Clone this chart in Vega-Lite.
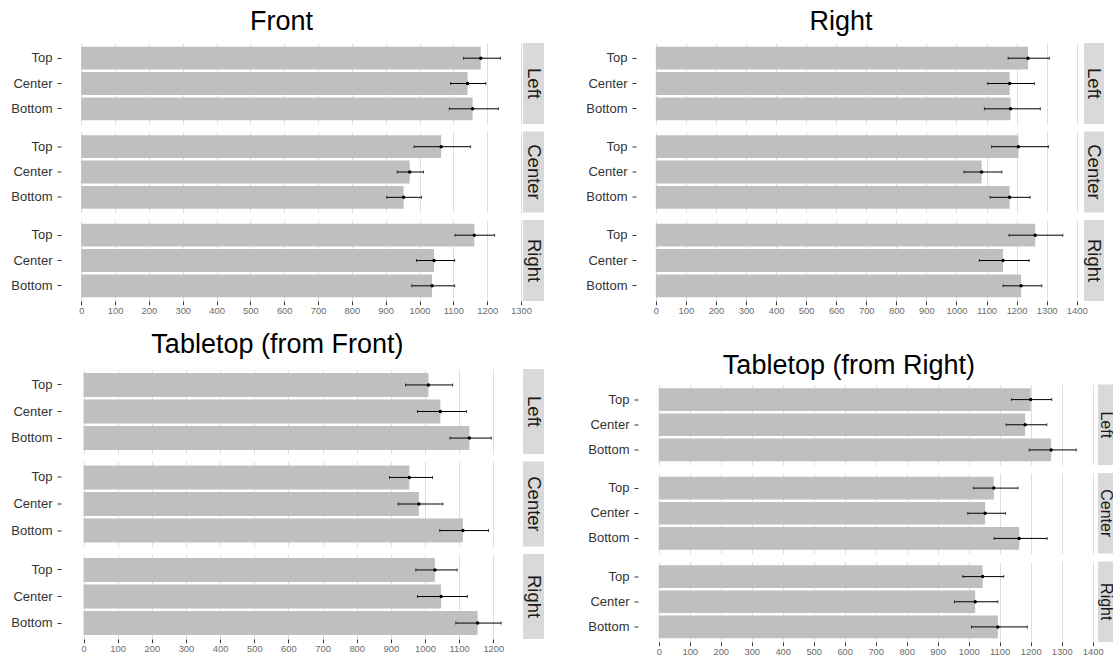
{
  "$schema": "https://vega.github.io/schema/vega-lite/v6.json",
  "background": "white",
  "padding": {"left": 10, "top": 8, "right": 0, "bottom": 0},
  "config": {
    "font": "Liberation Sans",
    "view": {"stroke": null},
    "axis": {"gridColor": "#dedede", "gridWidth": 1, "labelOverlap": false},
    "axisX": {"labelOverlap": false, "tickCount": 15},
    "title": {"fontSize": 27, "fontWeight": "normal", "color": "#000000", "anchor": "middle", "frame": "bounds"}
  },
  "datasets": {
    "d": [
      {"panel": "Front", "grp": "Left", "pos": "Top", "mean": 1181, "lo": 1130, "hi": 1239},
      {"panel": "Front", "grp": "Left", "pos": "Center", "mean": 1142, "lo": 1092, "hi": 1196},
      {"panel": "Front", "grp": "Left", "pos": "Bottom", "mean": 1157, "lo": 1088, "hi": 1233},
      {"panel": "Front", "grp": "Center", "pos": "Top", "mean": 1064, "lo": 984, "hi": 1151},
      {"panel": "Front", "grp": "Center", "pos": "Center", "mean": 971, "lo": 934, "hi": 1012},
      {"panel": "Front", "grp": "Center", "pos": "Bottom", "mean": 953, "lo": 903, "hi": 1006},
      {"panel": "Front", "grp": "Right", "pos": "Top", "mean": 1162, "lo": 1105, "hi": 1222},
      {"panel": "Front", "grp": "Right", "pos": "Center", "mean": 1043, "lo": 991, "hi": 1104},
      {"panel": "Front", "grp": "Right", "pos": "Bottom", "mean": 1037, "lo": 977, "hi": 1104},
      {"panel": "Right", "grp": "Left", "pos": "Top", "mean": 1238, "lo": 1172, "hi": 1309},
      {"panel": "Right", "grp": "Left", "pos": "Center", "mean": 1177, "lo": 1104, "hi": 1259},
      {"panel": "Right", "grp": "Left", "pos": "Bottom", "mean": 1180, "lo": 1093, "hi": 1279},
      {"panel": "Right", "grp": "Center", "pos": "Top", "mean": 1206, "lo": 1117, "hi": 1306},
      {"panel": "Right", "grp": "Center", "pos": "Center", "mean": 1084, "lo": 1025, "hi": 1151},
      {"panel": "Right", "grp": "Center", "pos": "Bottom", "mean": 1177, "lo": 1112, "hi": 1245},
      {"panel": "Right", "grp": "Right", "pos": "Top", "mean": 1262, "lo": 1175, "hi": 1354},
      {"panel": "Right", "grp": "Right", "pos": "Center", "mean": 1155, "lo": 1076, "hi": 1242},
      {"panel": "Right", "grp": "Right", "pos": "Bottom", "mean": 1215, "lo": 1155, "hi": 1284},
      {"panel": "TF", "grp": "Left", "pos": "Top", "mean": 1010, "lo": 943, "hi": 1081},
      {"panel": "TF", "grp": "Left", "pos": "Center", "mean": 1045, "lo": 978, "hi": 1121},
      {"panel": "TF", "grp": "Left", "pos": "Bottom", "mean": 1130, "lo": 1073, "hi": 1194},
      {"panel": "TF", "grp": "Center", "pos": "Top", "mean": 954, "lo": 896, "hi": 1022},
      {"panel": "TF", "grp": "Center", "pos": "Center", "mean": 982, "lo": 921, "hi": 1052},
      {"panel": "TF", "grp": "Center", "pos": "Bottom", "mean": 1111, "lo": 1043, "hi": 1186},
      {"panel": "TF", "grp": "Right", "pos": "Top", "mean": 1029, "lo": 973, "hi": 1094},
      {"panel": "TF", "grp": "Right", "pos": "Center", "mean": 1047, "lo": 978, "hi": 1124},
      {"panel": "TF", "grp": "Right", "pos": "Bottom", "mean": 1154, "lo": 1090, "hi": 1223},
      {"panel": "TR", "grp": "Left", "pos": "Top", "mean": 1200, "lo": 1138, "hi": 1268},
      {"panel": "TR", "grp": "Left", "pos": "Center", "mean": 1182, "lo": 1121, "hi": 1252},
      {"panel": "TR", "grp": "Left", "pos": "Bottom", "mean": 1266, "lo": 1195, "hi": 1347},
      {"panel": "TR", "grp": "Center", "pos": "Top", "mean": 1081, "lo": 1015, "hi": 1159},
      {"panel": "TR", "grp": "Center", "pos": "Center", "mean": 1053, "lo": 997, "hi": 1119},
      {"panel": "TR", "grp": "Center", "pos": "Bottom", "mean": 1163, "lo": 1082, "hi": 1253},
      {"panel": "TR", "grp": "Right", "pos": "Top", "mean": 1045, "lo": 981, "hi": 1113},
      {"panel": "TR", "grp": "Right", "pos": "Center", "mean": 1021, "lo": 954, "hi": 1094},
      {"panel": "TR", "grp": "Right", "pos": "Bottom", "mean": 1094, "lo": 1009, "hi": 1189}
    ]
  },
  "vconcat": [
    {
      "hconcat": [
        {
          "title": {"text": "Front", "offset": 7, "dx": 4},
          "spacing": 7.5,
          "vconcat": [
            {"spacing": 1, "bounds": "flush", "hconcat": [
              {"width": 461, "height": 81, "data": {"name": "d"},
               "transform": [{"filter": "datum.panel === 'Front' && datum.grp === 'Left'"}],
               "encoding": {"y": {"field": "pos", "type": "nominal", "sort": ["Top", "Center", "Bottom"], "title": null, "scale": {"paddingInner": 0.1, "paddingOuter": 0.15}, "axis": {"domain": false, "ticks": true, "tickSize": 4, "tickColor": "#333333", "labelColor": "#333333", "labelFontSize": 13, "labelPadding": 5, "grid": false}}},
               "layer": [
                 {"mark": {"type": "bar", "color": "#bfbfbf"}, "encoding": {"x": {"field": "mean", "type": "quantitative", "title": null, "scale": {"domain": [-60, 1303], "nice": false, "zero": false}, "axis": {"values": [0,100,200,300,400,500,600,700,800,900,1000,1100,1200,1300], "tickCount": 15, "labels": false, "ticks": false, "domain": false, "grid": true}}, "x2": {"datum": 0}}},
                 {"mark": {"type": "rule", "color": "#000000", "strokeWidth": 1}, "encoding": {"x": {"field": "lo", "type": "quantitative", "title": null, "axis": {"values": [0,100,200,300,400,500,600,700,800,900,1000,1100,1200,1300], "tickCount": 15, "labels": false, "ticks": false, "domain": false, "grid": true}}, "x2": {"field": "hi"}}},
                 {"mark": {"type": "tick", "color": "#000000", "size": 3, "thickness": 1}, "encoding": {"x": {"field": "lo", "type": "quantitative", "title": null, "axis": {"values": [0,100,200,300,400,500,600,700,800,900,1000,1100,1200,1300], "tickCount": 15, "labels": false, "ticks": false, "domain": false, "grid": true}}}},
                 {"mark": {"type": "tick", "color": "#000000", "size": 3, "thickness": 1}, "encoding": {"x": {"field": "hi", "type": "quantitative", "title": null, "axis": {"values": [0,100,200,300,400,500,600,700,800,900,1000,1100,1200,1300], "tickCount": 15, "labels": false, "ticks": false, "domain": false, "grid": true}}}},
                 {"mark": {"type": "point", "filled": true, "color": "#000000", "size": 12, "opacity": 1}, "encoding": {"x": {"field": "mean", "type": "quantitative", "title": null, "axis": {"values": [0,100,200,300,400,500,600,700,800,900,1000,1100,1200,1300], "tickCount": 15, "labels": false, "ticks": false, "domain": false, "grid": true}}}}
               ]},
              {"width": 21, "height": 81, "data": {"name": "d"},
               "transform": [{"filter": "datum.panel === 'Front' && datum.grp === 'Left' && datum.pos === 'Top'"}],
               "view": {"fill": "#d9d9d9", "stroke": null},
               "mark": {"type": "text", "angle": 90, "fontSize": 18.5, "color": "#1a1a1a", "baseline": "middle", "align": "center"},
               "encoding": {"text": {"field": "grp"}}}
            ]},
            {"spacing": 1, "bounds": "flush", "hconcat": [
              {"width": 461, "height": 81, "data": {"name": "d"},
               "transform": [{"filter": "datum.panel === 'Front' && datum.grp === 'Center'"}],
               "encoding": {"y": {"field": "pos", "type": "nominal", "sort": ["Top", "Center", "Bottom"], "title": null, "scale": {"paddingInner": 0.1, "paddingOuter": 0.15}, "axis": {"domain": false, "ticks": true, "tickSize": 4, "tickColor": "#333333", "labelColor": "#333333", "labelFontSize": 13, "labelPadding": 5, "grid": false}}},
               "layer": [
                 {"mark": {"type": "bar", "color": "#bfbfbf"}, "encoding": {"x": {"field": "mean", "type": "quantitative", "title": null, "scale": {"domain": [-60, 1303], "nice": false, "zero": false}, "axis": {"values": [0,100,200,300,400,500,600,700,800,900,1000,1100,1200,1300], "tickCount": 15, "labels": false, "ticks": false, "domain": false, "grid": true}}, "x2": {"datum": 0}}},
                 {"mark": {"type": "rule", "color": "#000000", "strokeWidth": 1}, "encoding": {"x": {"field": "lo", "type": "quantitative", "title": null, "axis": {"values": [0,100,200,300,400,500,600,700,800,900,1000,1100,1200,1300], "tickCount": 15, "labels": false, "ticks": false, "domain": false, "grid": true}}, "x2": {"field": "hi"}}},
                 {"mark": {"type": "tick", "color": "#000000", "size": 3, "thickness": 1}, "encoding": {"x": {"field": "lo", "type": "quantitative", "title": null, "axis": {"values": [0,100,200,300,400,500,600,700,800,900,1000,1100,1200,1300], "tickCount": 15, "labels": false, "ticks": false, "domain": false, "grid": true}}}},
                 {"mark": {"type": "tick", "color": "#000000", "size": 3, "thickness": 1}, "encoding": {"x": {"field": "hi", "type": "quantitative", "title": null, "axis": {"values": [0,100,200,300,400,500,600,700,800,900,1000,1100,1200,1300], "tickCount": 15, "labels": false, "ticks": false, "domain": false, "grid": true}}}},
                 {"mark": {"type": "point", "filled": true, "color": "#000000", "size": 12, "opacity": 1}, "encoding": {"x": {"field": "mean", "type": "quantitative", "title": null, "axis": {"values": [0,100,200,300,400,500,600,700,800,900,1000,1100,1200,1300], "tickCount": 15, "labels": false, "ticks": false, "domain": false, "grid": true}}}}
               ]},
              {"width": 21, "height": 81, "data": {"name": "d"},
               "transform": [{"filter": "datum.panel === 'Front' && datum.grp === 'Center' && datum.pos === 'Top'"}],
               "view": {"fill": "#d9d9d9", "stroke": null},
               "mark": {"type": "text", "angle": 90, "fontSize": 18.5, "color": "#1a1a1a", "baseline": "middle", "align": "center"},
               "encoding": {"text": {"field": "grp"}}}
            ]},
            {"spacing": 1, "bounds": "flush", "hconcat": [
              {"width": 461, "height": 81, "data": {"name": "d"},
               "transform": [{"filter": "datum.panel === 'Front' && datum.grp === 'Right'"}],
               "encoding": {"y": {"field": "pos", "type": "nominal", "sort": ["Top", "Center", "Bottom"], "title": null, "scale": {"paddingInner": 0.1, "paddingOuter": 0.15}, "axis": {"domain": false, "ticks": true, "tickSize": 4, "tickColor": "#333333", "labelColor": "#333333", "labelFontSize": 13, "labelPadding": 5, "grid": false}}},
               "layer": [
                 {"mark": {"type": "bar", "color": "#bfbfbf"}, "encoding": {"x": {"field": "mean", "type": "quantitative", "title": null, "scale": {"domain": [-60, 1303], "nice": false, "zero": false}, "axis": {"values": [0,100,200,300,400,500,600,700,800,900,1000,1100,1200,1300], "tickCount": 15, "format": "d", "labelOverlap": false, "labels": true, "labelFlush": false, "labelFontSize": 9.4, "labelColor": "#6b6b6b", "labelPadding": 2, "ticks": true, "tickSize": 3.7, "tickColor": "#333333", "domain": false, "grid": true}}, "x2": {"datum": 0}}},
                 {"mark": {"type": "rule", "color": "#000000", "strokeWidth": 1}, "encoding": {"x": {"field": "lo", "type": "quantitative", "title": null, "axis": {"values": [0,100,200,300,400,500,600,700,800,900,1000,1100,1200,1300], "tickCount": 15, "format": "d", "labelOverlap": false, "labels": true, "labelFlush": false, "labelFontSize": 9.4, "labelColor": "#6b6b6b", "labelPadding": 2, "ticks": true, "tickSize": 3.7, "tickColor": "#333333", "domain": false, "grid": true}}, "x2": {"field": "hi"}}},
                 {"mark": {"type": "tick", "color": "#000000", "size": 3, "thickness": 1}, "encoding": {"x": {"field": "lo", "type": "quantitative", "title": null, "axis": {"values": [0,100,200,300,400,500,600,700,800,900,1000,1100,1200,1300], "tickCount": 15, "format": "d", "labelOverlap": false, "labels": true, "labelFlush": false, "labelFontSize": 9.4, "labelColor": "#6b6b6b", "labelPadding": 2, "ticks": true, "tickSize": 3.7, "tickColor": "#333333", "domain": false, "grid": true}}}},
                 {"mark": {"type": "tick", "color": "#000000", "size": 3, "thickness": 1}, "encoding": {"x": {"field": "hi", "type": "quantitative", "title": null, "axis": {"values": [0,100,200,300,400,500,600,700,800,900,1000,1100,1200,1300], "tickCount": 15, "format": "d", "labelOverlap": false, "labels": true, "labelFlush": false, "labelFontSize": 9.4, "labelColor": "#6b6b6b", "labelPadding": 2, "ticks": true, "tickSize": 3.7, "tickColor": "#333333", "domain": false, "grid": true}}}},
                 {"mark": {"type": "point", "filled": true, "color": "#000000", "size": 12, "opacity": 1}, "encoding": {"x": {"field": "mean", "type": "quantitative", "title": null, "axis": {"values": [0,100,200,300,400,500,600,700,800,900,1000,1100,1200,1300], "tickCount": 15, "format": "d", "labelOverlap": false, "labels": true, "labelFlush": false, "labelFontSize": 9.4, "labelColor": "#6b6b6b", "labelPadding": 2, "ticks": true, "tickSize": 3.7, "tickColor": "#333333", "domain": false, "grid": true}}}}
               ]},
              {"width": 21, "height": 81, "data": {"name": "d"},
               "transform": [{"filter": "datum.panel === 'Front' && datum.grp === 'Right' && datum.pos === 'Top'"}],
               "view": {"fill": "#d9d9d9", "stroke": null},
               "mark": {"type": "text", "angle": 90, "fontSize": 18.5, "color": "#1a1a1a", "baseline": "middle", "align": "center"},
               "encoding": {"text": {"field": "grp"}}}
            ]}
          ]
        },
        {
          "title": {"text": "Right", "offset": 7, "dx": -4},
          "spacing": 7.5,
          "vconcat": [
            {"spacing": 1, "bounds": "flush", "hconcat": [
              {"width": 447, "height": 81, "data": {"name": "d"},
               "transform": [{"filter": "datum.panel === 'Right' && datum.grp === 'Left'"}],
               "encoding": {"y": {"field": "pos", "type": "nominal", "sort": ["Top", "Center", "Bottom"], "title": null, "scale": {"paddingInner": 0.1, "paddingOuter": 0.15}, "axis": {"domain": false, "ticks": true, "tickSize": 4, "tickColor": "#333333", "labelColor": "#333333", "labelFontSize": 13, "labelPadding": 5, "grid": false}}},
               "layer": [
                 {"mark": {"type": "bar", "color": "#bfbfbf"}, "encoding": {"x": {"field": "mean", "type": "quantitative", "title": null, "scale": {"domain": [-66, 1421], "nice": false, "zero": false}, "axis": {"values": [0,100,200,300,400,500,600,700,800,900,1000,1100,1200,1300,1400], "tickCount": 15, "labels": false, "ticks": false, "domain": false, "grid": true}}, "x2": {"datum": 0}}},
                 {"mark": {"type": "rule", "color": "#000000", "strokeWidth": 1}, "encoding": {"x": {"field": "lo", "type": "quantitative", "title": null, "axis": {"values": [0,100,200,300,400,500,600,700,800,900,1000,1100,1200,1300,1400], "tickCount": 15, "labels": false, "ticks": false, "domain": false, "grid": true}}, "x2": {"field": "hi"}}},
                 {"mark": {"type": "tick", "color": "#000000", "size": 3, "thickness": 1}, "encoding": {"x": {"field": "lo", "type": "quantitative", "title": null, "axis": {"values": [0,100,200,300,400,500,600,700,800,900,1000,1100,1200,1300,1400], "tickCount": 15, "labels": false, "ticks": false, "domain": false, "grid": true}}}},
                 {"mark": {"type": "tick", "color": "#000000", "size": 3, "thickness": 1}, "encoding": {"x": {"field": "hi", "type": "quantitative", "title": null, "axis": {"values": [0,100,200,300,400,500,600,700,800,900,1000,1100,1200,1300,1400], "tickCount": 15, "labels": false, "ticks": false, "domain": false, "grid": true}}}},
                 {"mark": {"type": "point", "filled": true, "color": "#000000", "size": 12, "opacity": 1}, "encoding": {"x": {"field": "mean", "type": "quantitative", "title": null, "axis": {"values": [0,100,200,300,400,500,600,700,800,900,1000,1100,1200,1300,1400], "tickCount": 15, "labels": false, "ticks": false, "domain": false, "grid": true}}}}
               ]},
              {"width": 20, "height": 81, "data": {"name": "d"},
               "transform": [{"filter": "datum.panel === 'Right' && datum.grp === 'Left' && datum.pos === 'Top'"}],
               "view": {"fill": "#d9d9d9", "stroke": null},
               "mark": {"type": "text", "angle": 90, "fontSize": 18.5, "color": "#1a1a1a", "baseline": "middle", "align": "center"},
               "encoding": {"text": {"field": "grp"}}}
            ]},
            {"spacing": 1, "bounds": "flush", "hconcat": [
              {"width": 447, "height": 81, "data": {"name": "d"},
               "transform": [{"filter": "datum.panel === 'Right' && datum.grp === 'Center'"}],
               "encoding": {"y": {"field": "pos", "type": "nominal", "sort": ["Top", "Center", "Bottom"], "title": null, "scale": {"paddingInner": 0.1, "paddingOuter": 0.15}, "axis": {"domain": false, "ticks": true, "tickSize": 4, "tickColor": "#333333", "labelColor": "#333333", "labelFontSize": 13, "labelPadding": 5, "grid": false}}},
               "layer": [
                 {"mark": {"type": "bar", "color": "#bfbfbf"}, "encoding": {"x": {"field": "mean", "type": "quantitative", "title": null, "scale": {"domain": [-66, 1421], "nice": false, "zero": false}, "axis": {"values": [0,100,200,300,400,500,600,700,800,900,1000,1100,1200,1300,1400], "tickCount": 15, "labels": false, "ticks": false, "domain": false, "grid": true}}, "x2": {"datum": 0}}},
                 {"mark": {"type": "rule", "color": "#000000", "strokeWidth": 1}, "encoding": {"x": {"field": "lo", "type": "quantitative", "title": null, "axis": {"values": [0,100,200,300,400,500,600,700,800,900,1000,1100,1200,1300,1400], "tickCount": 15, "labels": false, "ticks": false, "domain": false, "grid": true}}, "x2": {"field": "hi"}}},
                 {"mark": {"type": "tick", "color": "#000000", "size": 3, "thickness": 1}, "encoding": {"x": {"field": "lo", "type": "quantitative", "title": null, "axis": {"values": [0,100,200,300,400,500,600,700,800,900,1000,1100,1200,1300,1400], "tickCount": 15, "labels": false, "ticks": false, "domain": false, "grid": true}}}},
                 {"mark": {"type": "tick", "color": "#000000", "size": 3, "thickness": 1}, "encoding": {"x": {"field": "hi", "type": "quantitative", "title": null, "axis": {"values": [0,100,200,300,400,500,600,700,800,900,1000,1100,1200,1300,1400], "tickCount": 15, "labels": false, "ticks": false, "domain": false, "grid": true}}}},
                 {"mark": {"type": "point", "filled": true, "color": "#000000", "size": 12, "opacity": 1}, "encoding": {"x": {"field": "mean", "type": "quantitative", "title": null, "axis": {"values": [0,100,200,300,400,500,600,700,800,900,1000,1100,1200,1300,1400], "tickCount": 15, "labels": false, "ticks": false, "domain": false, "grid": true}}}}
               ]},
              {"width": 20, "height": 81, "data": {"name": "d"},
               "transform": [{"filter": "datum.panel === 'Right' && datum.grp === 'Center' && datum.pos === 'Top'"}],
               "view": {"fill": "#d9d9d9", "stroke": null},
               "mark": {"type": "text", "angle": 90, "fontSize": 18.5, "color": "#1a1a1a", "baseline": "middle", "align": "center"},
               "encoding": {"text": {"field": "grp"}}}
            ]},
            {"spacing": 1, "bounds": "flush", "hconcat": [
              {"width": 447, "height": 81, "data": {"name": "d"},
               "transform": [{"filter": "datum.panel === 'Right' && datum.grp === 'Right'"}],
               "encoding": {"y": {"field": "pos", "type": "nominal", "sort": ["Top", "Center", "Bottom"], "title": null, "scale": {"paddingInner": 0.1, "paddingOuter": 0.15}, "axis": {"domain": false, "ticks": true, "tickSize": 4, "tickColor": "#333333", "labelColor": "#333333", "labelFontSize": 13, "labelPadding": 5, "grid": false}}},
               "layer": [
                 {"mark": {"type": "bar", "color": "#bfbfbf"}, "encoding": {"x": {"field": "mean", "type": "quantitative", "title": null, "scale": {"domain": [-66, 1421], "nice": false, "zero": false}, "axis": {"values": [0,100,200,300,400,500,600,700,800,900,1000,1100,1200,1300,1400], "tickCount": 15, "format": "d", "labelOverlap": false, "labels": true, "labelFlush": false, "labelFontSize": 9.4, "labelColor": "#6b6b6b", "labelPadding": 2, "ticks": true, "tickSize": 3.7, "tickColor": "#333333", "domain": false, "grid": true}}, "x2": {"datum": 0}}},
                 {"mark": {"type": "rule", "color": "#000000", "strokeWidth": 1}, "encoding": {"x": {"field": "lo", "type": "quantitative", "title": null, "axis": {"values": [0,100,200,300,400,500,600,700,800,900,1000,1100,1200,1300,1400], "tickCount": 15, "format": "d", "labelOverlap": false, "labels": true, "labelFlush": false, "labelFontSize": 9.4, "labelColor": "#6b6b6b", "labelPadding": 2, "ticks": true, "tickSize": 3.7, "tickColor": "#333333", "domain": false, "grid": true}}, "x2": {"field": "hi"}}},
                 {"mark": {"type": "tick", "color": "#000000", "size": 3, "thickness": 1}, "encoding": {"x": {"field": "lo", "type": "quantitative", "title": null, "axis": {"values": [0,100,200,300,400,500,600,700,800,900,1000,1100,1200,1300,1400], "tickCount": 15, "format": "d", "labelOverlap": false, "labels": true, "labelFlush": false, "labelFontSize": 9.4, "labelColor": "#6b6b6b", "labelPadding": 2, "ticks": true, "tickSize": 3.7, "tickColor": "#333333", "domain": false, "grid": true}}}},
                 {"mark": {"type": "tick", "color": "#000000", "size": 3, "thickness": 1}, "encoding": {"x": {"field": "hi", "type": "quantitative", "title": null, "axis": {"values": [0,100,200,300,400,500,600,700,800,900,1000,1100,1200,1300,1400], "tickCount": 15, "format": "d", "labelOverlap": false, "labels": true, "labelFlush": false, "labelFontSize": 9.4, "labelColor": "#6b6b6b", "labelPadding": 2, "ticks": true, "tickSize": 3.7, "tickColor": "#333333", "domain": false, "grid": true}}}},
                 {"mark": {"type": "point", "filled": true, "color": "#000000", "size": 12, "opacity": 1}, "encoding": {"x": {"field": "mean", "type": "quantitative", "title": null, "axis": {"values": [0,100,200,300,400,500,600,700,800,900,1000,1100,1200,1300,1400], "tickCount": 15, "format": "d", "labelOverlap": false, "labels": true, "labelFlush": false, "labelFontSize": 9.4, "labelColor": "#6b6b6b", "labelPadding": 2, "ticks": true, "tickSize": 3.7, "tickColor": "#333333", "domain": false, "grid": true}}}}
               ]},
              {"width": 20, "height": 81, "data": {"name": "d"},
               "transform": [{"filter": "datum.panel === 'Right' && datum.grp === 'Right' && datum.pos === 'Top'"}],
               "view": {"fill": "#d9d9d9", "stroke": null},
               "mark": {"type": "text", "angle": 90, "fontSize": 18.5, "color": "#1a1a1a", "baseline": "middle", "align": "center"},
               "encoding": {"text": {"field": "grp"}}}
            ]}
          ]
        }
      ],
      "spacing": 41
    },
    {
      "hconcat": [
        {
          "title": {"text": "Tabletop (from Front)", "offset": 10},
          "spacing": 7.5,
          "vconcat": [
            {"spacing": 1, "bounds": "flush", "hconcat": [
              {"width": 461, "height": 85, "data": {"name": "d"},
               "transform": [{"filter": "datum.panel === 'TF' && datum.grp === 'Left'"}],
               "encoding": {"y": {"field": "pos", "type": "nominal", "sort": ["Top", "Center", "Bottom"], "title": null, "scale": {"paddingInner": 0.1, "paddingOuter": 0.15}, "axis": {"domain": false, "ticks": true, "tickSize": 4, "tickColor": "#333333", "labelColor": "#333333", "labelFontSize": 13, "labelPadding": 5, "grid": false}}},
               "layer": [
                 {"mark": {"type": "bar", "color": "#bfbfbf"}, "encoding": {"x": {"field": "mean", "type": "quantitative", "title": null, "scale": {"domain": [-66, 1284], "nice": false, "zero": false}, "axis": {"values": [0,100,200,300,400,500,600,700,800,900,1000,1100,1200], "tickCount": 15, "labels": false, "ticks": false, "domain": false, "grid": true}}, "x2": {"datum": 0}}},
                 {"mark": {"type": "rule", "color": "#000000", "strokeWidth": 1}, "encoding": {"x": {"field": "lo", "type": "quantitative", "title": null, "axis": {"values": [0,100,200,300,400,500,600,700,800,900,1000,1100,1200], "tickCount": 15, "labels": false, "ticks": false, "domain": false, "grid": true}}, "x2": {"field": "hi"}}},
                 {"mark": {"type": "tick", "color": "#000000", "size": 3, "thickness": 1}, "encoding": {"x": {"field": "lo", "type": "quantitative", "title": null, "axis": {"values": [0,100,200,300,400,500,600,700,800,900,1000,1100,1200], "tickCount": 15, "labels": false, "ticks": false, "domain": false, "grid": true}}}},
                 {"mark": {"type": "tick", "color": "#000000", "size": 3, "thickness": 1}, "encoding": {"x": {"field": "hi", "type": "quantitative", "title": null, "axis": {"values": [0,100,200,300,400,500,600,700,800,900,1000,1100,1200], "tickCount": 15, "labels": false, "ticks": false, "domain": false, "grid": true}}}},
                 {"mark": {"type": "point", "filled": true, "color": "#000000", "size": 12, "opacity": 1}, "encoding": {"x": {"field": "mean", "type": "quantitative", "title": null, "axis": {"values": [0,100,200,300,400,500,600,700,800,900,1000,1100,1200], "tickCount": 15, "labels": false, "ticks": false, "domain": false, "grid": true}}}}
               ]},
              {"width": 21, "height": 85, "data": {"name": "d"},
               "transform": [{"filter": "datum.panel === 'TF' && datum.grp === 'Left' && datum.pos === 'Top'"}],
               "view": {"fill": "#d9d9d9", "stroke": null},
               "mark": {"type": "text", "angle": 90, "fontSize": 18.5, "color": "#1a1a1a", "baseline": "middle", "align": "center"},
               "encoding": {"text": {"field": "grp"}}}
            ]},
            {"spacing": 1, "bounds": "flush", "hconcat": [
              {"width": 461, "height": 85, "data": {"name": "d"},
               "transform": [{"filter": "datum.panel === 'TF' && datum.grp === 'Center'"}],
               "encoding": {"y": {"field": "pos", "type": "nominal", "sort": ["Top", "Center", "Bottom"], "title": null, "scale": {"paddingInner": 0.1, "paddingOuter": 0.15}, "axis": {"domain": false, "ticks": true, "tickSize": 4, "tickColor": "#333333", "labelColor": "#333333", "labelFontSize": 13, "labelPadding": 5, "grid": false}}},
               "layer": [
                 {"mark": {"type": "bar", "color": "#bfbfbf"}, "encoding": {"x": {"field": "mean", "type": "quantitative", "title": null, "scale": {"domain": [-66, 1284], "nice": false, "zero": false}, "axis": {"values": [0,100,200,300,400,500,600,700,800,900,1000,1100,1200], "tickCount": 15, "labels": false, "ticks": false, "domain": false, "grid": true}}, "x2": {"datum": 0}}},
                 {"mark": {"type": "rule", "color": "#000000", "strokeWidth": 1}, "encoding": {"x": {"field": "lo", "type": "quantitative", "title": null, "axis": {"values": [0,100,200,300,400,500,600,700,800,900,1000,1100,1200], "tickCount": 15, "labels": false, "ticks": false, "domain": false, "grid": true}}, "x2": {"field": "hi"}}},
                 {"mark": {"type": "tick", "color": "#000000", "size": 3, "thickness": 1}, "encoding": {"x": {"field": "lo", "type": "quantitative", "title": null, "axis": {"values": [0,100,200,300,400,500,600,700,800,900,1000,1100,1200], "tickCount": 15, "labels": false, "ticks": false, "domain": false, "grid": true}}}},
                 {"mark": {"type": "tick", "color": "#000000", "size": 3, "thickness": 1}, "encoding": {"x": {"field": "hi", "type": "quantitative", "title": null, "axis": {"values": [0,100,200,300,400,500,600,700,800,900,1000,1100,1200], "tickCount": 15, "labels": false, "ticks": false, "domain": false, "grid": true}}}},
                 {"mark": {"type": "point", "filled": true, "color": "#000000", "size": 12, "opacity": 1}, "encoding": {"x": {"field": "mean", "type": "quantitative", "title": null, "axis": {"values": [0,100,200,300,400,500,600,700,800,900,1000,1100,1200], "tickCount": 15, "labels": false, "ticks": false, "domain": false, "grid": true}}}}
               ]},
              {"width": 21, "height": 85, "data": {"name": "d"},
               "transform": [{"filter": "datum.panel === 'TF' && datum.grp === 'Center' && datum.pos === 'Top'"}],
               "view": {"fill": "#d9d9d9", "stroke": null},
               "mark": {"type": "text", "angle": 90, "fontSize": 18.5, "color": "#1a1a1a", "baseline": "middle", "align": "center"},
               "encoding": {"text": {"field": "grp"}}}
            ]},
            {"spacing": 1, "bounds": "flush", "hconcat": [
              {"width": 461, "height": 85, "data": {"name": "d"},
               "transform": [{"filter": "datum.panel === 'TF' && datum.grp === 'Right'"}],
               "encoding": {"y": {"field": "pos", "type": "nominal", "sort": ["Top", "Center", "Bottom"], "title": null, "scale": {"paddingInner": 0.1, "paddingOuter": 0.15}, "axis": {"domain": false, "ticks": true, "tickSize": 4, "tickColor": "#333333", "labelColor": "#333333", "labelFontSize": 13, "labelPadding": 5, "grid": false}}},
               "layer": [
                 {"mark": {"type": "bar", "color": "#bfbfbf"}, "encoding": {"x": {"field": "mean", "type": "quantitative", "title": null, "scale": {"domain": [-66, 1284], "nice": false, "zero": false}, "axis": {"values": [0,100,200,300,400,500,600,700,800,900,1000,1100,1200], "tickCount": 15, "format": "d", "labelOverlap": false, "labels": true, "labelFlush": false, "labelFontSize": 9.4, "labelColor": "#6b6b6b", "labelPadding": 2, "ticks": true, "tickSize": 3.7, "tickColor": "#333333", "domain": false, "grid": true}}, "x2": {"datum": 0}}},
                 {"mark": {"type": "rule", "color": "#000000", "strokeWidth": 1}, "encoding": {"x": {"field": "lo", "type": "quantitative", "title": null, "axis": {"values": [0,100,200,300,400,500,600,700,800,900,1000,1100,1200], "tickCount": 15, "format": "d", "labelOverlap": false, "labels": true, "labelFlush": false, "labelFontSize": 9.4, "labelColor": "#6b6b6b", "labelPadding": 2, "ticks": true, "tickSize": 3.7, "tickColor": "#333333", "domain": false, "grid": true}}, "x2": {"field": "hi"}}},
                 {"mark": {"type": "tick", "color": "#000000", "size": 3, "thickness": 1}, "encoding": {"x": {"field": "lo", "type": "quantitative", "title": null, "axis": {"values": [0,100,200,300,400,500,600,700,800,900,1000,1100,1200], "tickCount": 15, "format": "d", "labelOverlap": false, "labels": true, "labelFlush": false, "labelFontSize": 9.4, "labelColor": "#6b6b6b", "labelPadding": 2, "ticks": true, "tickSize": 3.7, "tickColor": "#333333", "domain": false, "grid": true}}}},
                 {"mark": {"type": "tick", "color": "#000000", "size": 3, "thickness": 1}, "encoding": {"x": {"field": "hi", "type": "quantitative", "title": null, "axis": {"values": [0,100,200,300,400,500,600,700,800,900,1000,1100,1200], "tickCount": 15, "format": "d", "labelOverlap": false, "labels": true, "labelFlush": false, "labelFontSize": 9.4, "labelColor": "#6b6b6b", "labelPadding": 2, "ticks": true, "tickSize": 3.7, "tickColor": "#333333", "domain": false, "grid": true}}}},
                 {"mark": {"type": "point", "filled": true, "color": "#000000", "size": 12, "opacity": 1}, "encoding": {"x": {"field": "mean", "type": "quantitative", "title": null, "axis": {"values": [0,100,200,300,400,500,600,700,800,900,1000,1100,1200], "tickCount": 15, "format": "d", "labelOverlap": false, "labels": true, "labelFlush": false, "labelFontSize": 9.4, "labelColor": "#6b6b6b", "labelPadding": 2, "ticks": true, "tickSize": 3.7, "tickColor": "#333333", "domain": false, "grid": true}}}}
               ]},
              {"width": 21, "height": 85, "data": {"name": "d"},
               "transform": [{"filter": "datum.panel === 'TF' && datum.grp === 'Right' && datum.pos === 'Top'"}],
               "view": {"fill": "#d9d9d9", "stroke": null},
               "mark": {"type": "text", "angle": 90, "fontSize": 18.5, "color": "#1a1a1a", "baseline": "middle", "align": "center"},
               "encoding": {"text": {"field": "grp"}}}
            ]}
          ]
        },
        {
          "title": {"text": "Tabletop (from Right)", "offset": 10, "dy": 21, "dx": -2},
          "spacing": 7.5,
          "vconcat": [
            {"width": 459, "height": 8, "data": {"name": "d"},
             "transform": [{"filter": "datum.panel === 'none'"}],
             "mark": {"type": "text"},
             "encoding": {"text": {"field": "grp"}}},
            {"spacing": 1, "bounds": "flush", "hconcat": [
              {"width": 459, "height": 80.5, "data": {"name": "d"},
               "transform": [{"filter": "datum.panel === 'TR' && datum.grp === 'Left'"}],
               "encoding": {"y": {"field": "pos", "type": "nominal", "sort": ["Top", "Center", "Bottom"], "title": null, "scale": {"paddingInner": 0.1, "paddingOuter": 0.15}, "axis": {"domain": false, "ticks": true, "tickSize": 4, "tickColor": "#333333", "labelColor": "#333333", "labelFontSize": 13, "labelPadding": 5, "grid": false}}},
               "layer": [
                 {"mark": {"type": "bar", "color": "#bfbfbf"}, "encoding": {"x": {"field": "mean", "type": "quantitative", "title": null, "scale": {"domain": [-67, 1414], "nice": false, "zero": false}, "axis": {"values": [0,100,200,300,400,500,600,700,800,900,1000,1100,1200,1300,1400], "tickCount": 15, "labels": false, "ticks": false, "domain": false, "grid": true}}, "x2": {"datum": 0}}},
                 {"mark": {"type": "rule", "color": "#000000", "strokeWidth": 1}, "encoding": {"x": {"field": "lo", "type": "quantitative", "title": null, "axis": {"values": [0,100,200,300,400,500,600,700,800,900,1000,1100,1200,1300,1400], "tickCount": 15, "labels": false, "ticks": false, "domain": false, "grid": true}}, "x2": {"field": "hi"}}},
                 {"mark": {"type": "tick", "color": "#000000", "size": 3, "thickness": 1}, "encoding": {"x": {"field": "lo", "type": "quantitative", "title": null, "axis": {"values": [0,100,200,300,400,500,600,700,800,900,1000,1100,1200,1300,1400], "tickCount": 15, "labels": false, "ticks": false, "domain": false, "grid": true}}}},
                 {"mark": {"type": "tick", "color": "#000000", "size": 3, "thickness": 1}, "encoding": {"x": {"field": "hi", "type": "quantitative", "title": null, "axis": {"values": [0,100,200,300,400,500,600,700,800,900,1000,1100,1200,1300,1400], "tickCount": 15, "labels": false, "ticks": false, "domain": false, "grid": true}}}},
                 {"mark": {"type": "point", "filled": true, "color": "#000000", "size": 12, "opacity": 1}, "encoding": {"x": {"field": "mean", "type": "quantitative", "title": null, "axis": {"values": [0,100,200,300,400,500,600,700,800,900,1000,1100,1200,1300,1400], "tickCount": 15, "labels": false, "ticks": false, "domain": false, "grid": true}}}}
               ]},
              {"width": 16, "height": 80.5, "data": {"name": "d"},
               "transform": [{"filter": "datum.panel === 'TR' && datum.grp === 'Left' && datum.pos === 'Top'"}],
               "view": {"fill": "#d9d9d9", "stroke": null},
               "mark": {"type": "text", "angle": 90, "fontSize": 16, "color": "#1a1a1a", "baseline": "middle", "align": "center"},
               "encoding": {"text": {"field": "grp"}}}
            ]},
            {"spacing": 1, "bounds": "flush", "hconcat": [
              {"width": 459, "height": 80.5, "data": {"name": "d"},
               "transform": [{"filter": "datum.panel === 'TR' && datum.grp === 'Center'"}],
               "encoding": {"y": {"field": "pos", "type": "nominal", "sort": ["Top", "Center", "Bottom"], "title": null, "scale": {"paddingInner": 0.1, "paddingOuter": 0.15}, "axis": {"domain": false, "ticks": true, "tickSize": 4, "tickColor": "#333333", "labelColor": "#333333", "labelFontSize": 13, "labelPadding": 5, "grid": false}}},
               "layer": [
                 {"mark": {"type": "bar", "color": "#bfbfbf"}, "encoding": {"x": {"field": "mean", "type": "quantitative", "title": null, "scale": {"domain": [-67, 1414], "nice": false, "zero": false}, "axis": {"values": [0,100,200,300,400,500,600,700,800,900,1000,1100,1200,1300,1400], "tickCount": 15, "labels": false, "ticks": false, "domain": false, "grid": true}}, "x2": {"datum": 0}}},
                 {"mark": {"type": "rule", "color": "#000000", "strokeWidth": 1}, "encoding": {"x": {"field": "lo", "type": "quantitative", "title": null, "axis": {"values": [0,100,200,300,400,500,600,700,800,900,1000,1100,1200,1300,1400], "tickCount": 15, "labels": false, "ticks": false, "domain": false, "grid": true}}, "x2": {"field": "hi"}}},
                 {"mark": {"type": "tick", "color": "#000000", "size": 3, "thickness": 1}, "encoding": {"x": {"field": "lo", "type": "quantitative", "title": null, "axis": {"values": [0,100,200,300,400,500,600,700,800,900,1000,1100,1200,1300,1400], "tickCount": 15, "labels": false, "ticks": false, "domain": false, "grid": true}}}},
                 {"mark": {"type": "tick", "color": "#000000", "size": 3, "thickness": 1}, "encoding": {"x": {"field": "hi", "type": "quantitative", "title": null, "axis": {"values": [0,100,200,300,400,500,600,700,800,900,1000,1100,1200,1300,1400], "tickCount": 15, "labels": false, "ticks": false, "domain": false, "grid": true}}}},
                 {"mark": {"type": "point", "filled": true, "color": "#000000", "size": 12, "opacity": 1}, "encoding": {"x": {"field": "mean", "type": "quantitative", "title": null, "axis": {"values": [0,100,200,300,400,500,600,700,800,900,1000,1100,1200,1300,1400], "tickCount": 15, "labels": false, "ticks": false, "domain": false, "grid": true}}}}
               ]},
              {"width": 16, "height": 80.5, "data": {"name": "d"},
               "transform": [{"filter": "datum.panel === 'TR' && datum.grp === 'Center' && datum.pos === 'Top'"}],
               "view": {"fill": "#d9d9d9", "stroke": null},
               "mark": {"type": "text", "angle": 90, "fontSize": 16, "color": "#1a1a1a", "baseline": "middle", "align": "center"},
               "encoding": {"text": {"field": "grp"}}}
            ]},
            {"spacing": 1, "bounds": "flush", "hconcat": [
              {"width": 459, "height": 80.5, "data": {"name": "d"},
               "transform": [{"filter": "datum.panel === 'TR' && datum.grp === 'Right'"}],
               "encoding": {"y": {"field": "pos", "type": "nominal", "sort": ["Top", "Center", "Bottom"], "title": null, "scale": {"paddingInner": 0.1, "paddingOuter": 0.15}, "axis": {"domain": false, "ticks": true, "tickSize": 4, "tickColor": "#333333", "labelColor": "#333333", "labelFontSize": 13, "labelPadding": 5, "grid": false}}},
               "layer": [
                 {"mark": {"type": "bar", "color": "#bfbfbf"}, "encoding": {"x": {"field": "mean", "type": "quantitative", "title": null, "scale": {"domain": [-67, 1414], "nice": false, "zero": false}, "axis": {"values": [0,100,200,300,400,500,600,700,800,900,1000,1100,1200,1300,1400], "tickCount": 15, "format": "d", "labelOverlap": false, "labels": true, "labelFlush": false, "labelFontSize": 9.4, "labelColor": "#6b6b6b", "labelPadding": 2, "ticks": true, "tickSize": 3.7, "tickColor": "#333333", "domain": false, "grid": true}}, "x2": {"datum": 0}}},
                 {"mark": {"type": "rule", "color": "#000000", "strokeWidth": 1}, "encoding": {"x": {"field": "lo", "type": "quantitative", "title": null, "axis": {"values": [0,100,200,300,400,500,600,700,800,900,1000,1100,1200,1300,1400], "tickCount": 15, "format": "d", "labelOverlap": false, "labels": true, "labelFlush": false, "labelFontSize": 9.4, "labelColor": "#6b6b6b", "labelPadding": 2, "ticks": true, "tickSize": 3.7, "tickColor": "#333333", "domain": false, "grid": true}}, "x2": {"field": "hi"}}},
                 {"mark": {"type": "tick", "color": "#000000", "size": 3, "thickness": 1}, "encoding": {"x": {"field": "lo", "type": "quantitative", "title": null, "axis": {"values": [0,100,200,300,400,500,600,700,800,900,1000,1100,1200,1300,1400], "tickCount": 15, "format": "d", "labelOverlap": false, "labels": true, "labelFlush": false, "labelFontSize": 9.4, "labelColor": "#6b6b6b", "labelPadding": 2, "ticks": true, "tickSize": 3.7, "tickColor": "#333333", "domain": false, "grid": true}}}},
                 {"mark": {"type": "tick", "color": "#000000", "size": 3, "thickness": 1}, "encoding": {"x": {"field": "hi", "type": "quantitative", "title": null, "axis": {"values": [0,100,200,300,400,500,600,700,800,900,1000,1100,1200,1300,1400], "tickCount": 15, "format": "d", "labelOverlap": false, "labels": true, "labelFlush": false, "labelFontSize": 9.4, "labelColor": "#6b6b6b", "labelPadding": 2, "ticks": true, "tickSize": 3.7, "tickColor": "#333333", "domain": false, "grid": true}}}},
                 {"mark": {"type": "point", "filled": true, "color": "#000000", "size": 12, "opacity": 1}, "encoding": {"x": {"field": "mean", "type": "quantitative", "title": null, "axis": {"values": [0,100,200,300,400,500,600,700,800,900,1000,1100,1200,1300,1400], "tickCount": 15, "format": "d", "labelOverlap": false, "labels": true, "labelFlush": false, "labelFontSize": 9.4, "labelColor": "#6b6b6b", "labelPadding": 2, "ticks": true, "tickSize": 3.7, "tickColor": "#333333", "domain": false, "grid": true}}}}
               ]},
              {"width": 16, "height": 80.5, "data": {"name": "d"},
               "transform": [{"filter": "datum.panel === 'TR' && datum.grp === 'Right' && datum.pos === 'Top'"}],
               "view": {"fill": "#d9d9d9", "stroke": null},
               "mark": {"type": "text", "angle": 90, "fontSize": 16, "color": "#1a1a1a", "baseline": "middle", "align": "center"},
               "encoding": {"text": {"field": "grp"}}}
            ]}
          ]
        }
      ],
      "spacing": 43
    }
  ],
  "spacing": 15
}
